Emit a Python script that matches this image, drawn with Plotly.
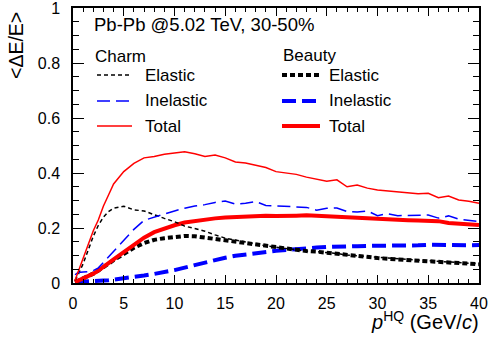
import plotly.graph_objects as go

# Momentum grid (GeV/c)
p_hq = [0.2, 0.5, 1, 1.5, 2, 2.5, 3, 3.5, 4, 5, 6, 7, 8, 9, 10, 11, 12, 13, 14, 15,
        16, 17, 18, 19, 20, 21, 22, 23, 24, 25, 26, 27, 28, 29, 30, 31, 32, 33, 34,
        35, 36, 37, 38, 39, 40]

# Charm energy loss <dE/E>
charm_elastic = [0.01, 0.03, 0.07, 0.12, 0.17, 0.21, 0.24, 0.26, 0.272, 0.279, 0.266, 0.262,
                 0.248, 0.235, 0.223, 0.207, 0.198, 0.188, 0.175, 0.163, 0.156, 0.150, 0.142,
                 0.135, 0.130, 0.124, 0.120, 0.116, 0.114, 0.111, 0.107, 0.102, 0.099, 0.096,
                 0.093, 0.090, 0.087, 0.085, 0.083, 0.081, 0.079, 0.077, 0.075, 0.072, 0.070]
charm_inelastic = [0.03, 0.038, 0.040, 0.041, 0.045, 0.055, 0.075, 0.095, 0.115, 0.155, 0.195,
                   0.228, 0.240, 0.250, 0.262, 0.272, 0.280, 0.285, 0.293, 0.298, 0.287, 0.290,
                   0.296, 0.282, 0.280, 0.278, 0.277, 0.275, 0.265, 0.272, 0.273, 0.260, 0.258,
                   0.262, 0.245, 0.252, 0.245, 0.246, 0.247, 0.247, 0.236, 0.244, 0.232, 0.228,
                   0.223]
charm_total = [0.01, 0.04, 0.09, 0.14, 0.19, 0.23, 0.28, 0.32, 0.36, 0.405, 0.435, 0.455, 0.46,
               0.468, 0.472, 0.477, 0.47, 0.46, 0.465, 0.455, 0.44, 0.436, 0.428, 0.42, 0.405,
               0.40, 0.395, 0.385, 0.377, 0.37, 0.375, 0.35, 0.356, 0.345, 0.338, 0.335, 0.33,
               0.327, 0.325, 0.326, 0.31, 0.316, 0.302, 0.297, 0.29]

# Beauty energy loss <dE/E>
beauty_elastic = [0.003, 0.008, 0.015, 0.024, 0.034, 0.045, 0.058, 0.070, 0.083, 0.105, 0.128,
                  0.145, 0.157, 0.163, 0.168, 0.171, 0.170, 0.165, 0.160, 0.156, 0.152, 0.148,
                  0.142, 0.136, 0.132, 0.126, 0.121, 0.116, 0.114, 0.110, 0.105, 0.100, 0.097,
                  0.094, 0.091, 0.088, 0.086, 0.084, 0.082, 0.080, 0.078, 0.076, 0.073, 0.070,
                  0.068]
beauty_inelastic = [0.003, 0.004, 0.005, 0.006, 0.007, 0.008, 0.009, 0.010, 0.012, 0.016, 0.021,
                    0.027, 0.033, 0.039, 0.047, 0.056, 0.065, 0.075, 0.085, 0.092, 0.099, 0.104,
                    0.109, 0.113, 0.117, 0.120, 0.124, 0.127, 0.129, 0.131, 0.133, 0.134, 0.134,
                    0.135, 0.135, 0.136, 0.136, 0.138, 0.137, 0.139, 0.138, 0.140, 0.138, 0.137,
                    0.138]
beauty_total = [0.003, 0.008, 0.015, 0.024, 0.034, 0.045, 0.060, 0.072, 0.086, 0.112, 0.140,
                0.165, 0.185, 0.198, 0.210, 0.220, 0.226, 0.230, 0.235, 0.238, 0.240, 0.243,
                0.243, 0.245, 0.244, 0.246, 0.245, 0.246, 0.244, 0.243, 0.242, 0.238, 0.236,
                0.233, 0.231, 0.231, 0.230, 0.228, 0.227, 0.227, 0.225, 0.218, 0.215, 0.213,
                0.211]

y_tickvals = [0, 0.2, 0.4, 0.6, 0.8, 1]
y_ticktext = ["0", "0.2", "0.4", "0.6", "0.8", "1"]
x_tickvals = [0, 5, 10, 15, 20, 25, 30, 35, 40]

FONT = "Liberation Sans, Arial, Helvetica, sans-serif"
RED, BLUE, BLACK = "#ff0000", "#0000ff", "#000000"

W, H = 489, 339
L, R, T, B = 73, 10, 8, 56
PW, PH = W - L - R, H - T - B


def fx(px):
    return (px - L) / PW


def fy(py):
    return (H - B - py) / PH


styles = {
    "charm_elastic": dict(color=BLACK, width=1.5, dash="4px,3px"),
    "charm_inelastic": dict(color=BLUE, width=1.5, dash="13px,6px"),
    "charm_total": dict(color=RED, width=1.5, dash="solid"),
    "beauty_elastic": dict(color=BLACK, width=4, dash="5px,3px"),
    "beauty_inelastic": dict(color=BLUE, width=4, dash="14px,6px"),
    "beauty_total": dict(color=RED, width=4, dash="solid"),
}

series = [
    ("beauty_inelastic", beauty_inelastic),
    ("beauty_elastic", beauty_elastic),
    ("beauty_total", beauty_total),
    ("charm_elastic", charm_elastic),
    ("charm_inelastic", charm_inelastic),
    ("charm_total", charm_total),
]

fig = go.Figure()
for key, vals in series:
    fig.add_trace(go.Scatter(x=p_hq, y=vals, mode="lines", line=styles[key],
                             showlegend=False, hoverinfo="skip"))

# Legend block drawn as line samples + labels
shapes = []
annotations = []
rows = [("Elastic", 75), ("Inelastic", 101), ("Total", 126)]
for col, (x0, x1, xt) in {"charm": (97, 132, 143), "beauty": (282, 320, 327)}.items():
    for name, py in rows:
        st = styles[f"{col}_{name.lower()}"]
        shapes.append(dict(type="line", xref="paper", yref="paper",
                           x0=fx(x0), x1=fx(x1), y0=fy(py), y1=fy(py),
                           line=dict(color=st["color"], width=st["width"], dash=st["dash"])))
        annotations.append(dict(text=name, xref="paper", yref="paper", x=fx(xt), y=fy(py),
                                xanchor="left", yanchor="middle", showarrow=False,
                                font=dict(size=17, color=BLACK, family=FONT)))

annotations += [
    dict(text="Charm", xref="paper", yref="paper", x=fx(93), y=fy(56), xanchor="left",
         yanchor="middle", showarrow=False, font=dict(size=17, color=BLACK, family=FONT)),
    dict(text="Beauty", xref="paper", yref="paper", x=fx(281), y=fy(55), xanchor="left",
         yanchor="middle", showarrow=False, font=dict(size=17, color=BLACK, family=FONT)),
    dict(text="Pb-Pb @5.02 TeV, 30-50%", xref="paper", yref="paper", x=fx(92), y=fy(25),
         xanchor="left", yanchor="middle", showarrow=False,
         font=dict(size=18.5, color=BLACK, family=FONT)),
    dict(text="<i>p</i><sup>HQ</sup> (GeV/<i>c</i>)", xref="paper", yref="paper",
         x=fx(481), y=fy(306), xanchor="right", yanchor="top", showarrow=False,
         font=dict(size=20, color=BLACK, family=FONT)),
    dict(text="<ΔE/E>", xref="paper", yref="paper", x=fx(16), y=fy(46), textangle=-90,
         xanchor="center", yanchor="middle", showarrow=False,
         font=dict(size=19.5, color=BLACK, family=FONT)),
]

axis_common = dict(showgrid=False, zeroline=False, showline=True, linecolor=BLACK,
                   linewidth=1.5, mirror="ticks", ticks="inside", tickcolor=BLACK,
                   tickwidth=1, automargin=False, ticklabeloverflow="allow",
                   tickfont=dict(size=16, color=BLACK, family=FONT))

fig.update_layout(
    width=W, height=H,
    margin=dict(l=L, r=R, t=T, b=B, pad=0, autoexpand=False),
    paper_bgcolor="white", plot_bgcolor="white",
    shapes=shapes, annotations=annotations,
    xaxis=dict(range=[0, 40], tickvals=x_tickvals, ticklen=8, ticklabelstandoff=5,
               minor=dict(dtick=1, ticklen=4, ticks="inside", tickcolor=BLACK, tickwidth=1),
               **axis_common),
    yaxis=dict(range=[0, 1], tickvals=y_tickvals, ticktext=y_ticktext, ticklen=11,
               ticklabelstandoff=8,
               minor=dict(dtick=0.05, ticklen=6, ticks="inside", tickcolor=BLACK, tickwidth=1),
               **axis_common),
)

fig.write_html("out.html")
